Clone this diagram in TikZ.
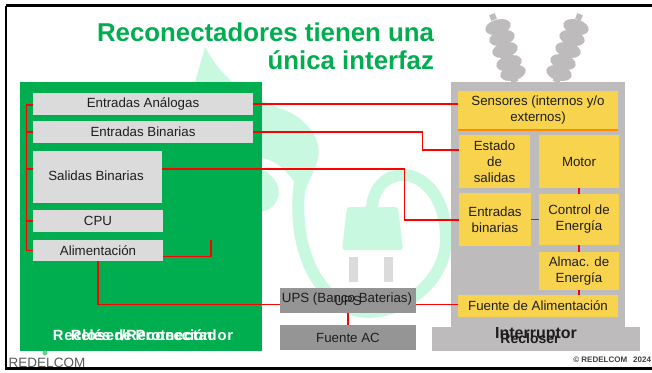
\documentclass[tikz,border=0pt]{standalone}
\usepackage{fontspec}
\setmainfont{Liberation Sans}
\definecolor{verde}{HTML}{00AE50}
\definecolor{menta}{HTML}{C8F9E0}
\definecolor{claro}{HTML}{DBDBDB}
\definecolor{medio}{HTML}{959595}
\definecolor{cuerpo}{HTML}{BDBBBC}
\definecolor{amarillo}{HTML}{F8D34E}
\definecolor{texto}{HTML}{1E1E1E}

\begin{document}
\begin{tikzpicture}[x=1pt,y=-1pt,
    every node/.style={inner sep=0pt,outer sep=0pt,text=texto,font=\fontsize{13.3}{16}\selectfont,align=center},
    relbox/.style={fill=claro,minimum width=#1},
    upsbox/.style={fill=medio,minimum width=136,minimum height=25},
    yelbox/.style={fill=amarillo,minimum width=#1},
    wire/.style={draw=red,line width=1.6pt},
    bigtxt/.style={font=\fontsize{14.8}{16}\selectfont\bfseries},
    capa/.style={fill=cuerpo}]

    \useasboundingbox (0,0) rectangle (652,372);
    \fill[white] (0,0) rectangle (652,372);

    % hoja y enchufe de fondo
    \fill[menta] (205,47) .. controls (225,85) and (255,100) .. (285,110)
        .. controls (308,120) and (322,140) .. (318,158)
        .. controls (315,172) and (309,178) .. (306,190)
        -- (297,186) .. controls (287,170) and (275,160) .. (262,158)
        -- (190,158) -- (190,100) -- cycle;
    \fill[menta] (255,168) -- (263,170) .. controls (275,176) and (281,188) .. (278,197)
        .. controls (275,207) and (268,212) .. (255,212) -- cycle;
    \draw[menta,line width=12pt] (300,182) .. controls (294,225) and (302,280) .. (345,307)
        .. controls (385,325) and (445,290) .. (446,240)
        .. controls (447,200) and (425,175) .. (403,175)
        .. controls (385,175) and (372,190) .. (372,210);
    \fill[menta,rounded corners=3pt] (347,207) -- (398,207) -- (403,250) -- (342,250) -- cycle;
    \fill[claro] (349,257) rectangle (358,282);
    \fill[claro] (384,257) rectangle (393,282);

    % aisladores
    \draw[cuerpo,line width=7pt] (495,22) -- (515,82);
    \draw[cuerpo,line width=7pt] (577,22) -- (556,82);
    \fill[cuerpo,rotate around={20:(493,17)}] (490,14) rectangle (496,20);
    \fill[cuerpo,rotate around={-20:(579,17)}] (576,14) rectangle (582,20);
    \foreach \xa/\ya/\ang in {498/27/15,502/38/15,505/50/15,509/63/15,513/73/15,
                              576/27/-15,572/38/-15,568/50/-15,563/62/-15,559/73/-15}
        \fill[cuerpo,rotate around={\ang:(\xa,\ya)}] (\xa,\ya) ellipse (13 and 7.5);

    % bloque izquierdo
    \node[fill=verde,minimum width=242,minimum height=269] (rele) at (141,216) {};
    \node[relbox=220,minimum height=22] (entana) at (143,104) {Entradas Análogas};
    \node[relbox=220,minimum height=22] (entbin) at (143,132) {Entradas Binarias};
    \node[relbox=129,minimum height=52] (salbin) at (97.5,177) {\hspace{-3pt}\raisebox{3pt}{Salidas Binarias}};
    \node[relbox=130,minimum height=22] (cpu)    at (98,221) {CPU};
    \node[relbox=130,minimum height=21] (alim)   at (98,250.5) {Alimentación};
    \node[bigtxt,text=white] (reclose) at (143,335) {\addfontfeature{LetterSpace=5}Recloser/Reconectador};
    \node[bigtxt,text=white] (proteccion) at (141.5,335) {Relés de Protección};

    % bloque derecho
    \node[capa,minimum width=174,minimum height=245] (cuba) at (538,204.5) {};
    \node[capa,minimum width=208,minimum height=24] (base) at (536,339) {};
    \node[yelbox=160,minimum height=38,fill=amarillo] (sens) at (538,110) {Sensores (internos y/o\\externos)};
    \node[yelbox=71,minimum height=53]  (estado)  at (494.5,161.5) {Estado\\de\\salidas};
    \node[yelbox=80,minimum height=53]  (motor)   at (579,161.5) {Motor};
    \node[yelbox=72,minimum height=53]  (entrada) at (495,219.5) {Entradas\\binarias};
    \node[yelbox=80,minimum height=51]  (control) at (579,219.5) {Control de\\Energía};
    \node[yelbox=80,minimum height=38]  (almac)   at (579,271) {Almac. de\\Energía};
    \node[yelbox=160,minimum height=22] (fuente)  at (538,306) {Fuente de Alimentación};
    \fill[orange!90!yellow] (sens.south west) rectangle ([yshift=-1.5pt]sens.south east);
    \node[font=\fontsize{16}{16}\selectfont\bfseries] (interr) at (536,335) {Interruptor};
    \node[font=\fontsize{14}{16}\selectfont\bfseries] (recl) at (530,338) {Recloser};

    % UPS y fuente
    \node[upsbox] (ups) at (348,300.5) {};
    \node[upsbox] (ac)  at (348,337.5) {Fuente AC};
    \node (upsa) at (347,299) {UPS (Banco Baterias)};
    \node (upsb) at (348,301) {UPS};

    % titulo
    \node[font=\fontsize{25.8}{28}\selectfont\bfseries,text=verde,align=right,anchor=east] (titulo) at (434,46)
        {Reconectadores tienen una\\única interfaz};

    % conexiones
    \coordinate (bus) at (26.5,105);
    \coordinate (alimfin) at (211,240);
    \coordinate (codobin) at (422.5,132);
    \coordinate (codosal) at (404.5,169.2);
    \draw[wire] (alim.west) -| (bus) -- (entana.west |- bus);
    \draw[wire] (entbin.west) -- (entbin.west -| bus);
    \draw[wire] ([yshift=7.8pt]salbin.west) -- ([yshift=7.8pt]salbin.west -| bus);
    \draw[wire] (cpu.west) -- (cpu.west -| bus);

    \draw[wire] (entana.east) -- (entana.east -| sens.west);
    \draw[wire] (entbin.east) -- (codobin) |- ([yshift=11.5pt]estado.west);
    \draw[wire] ([yshift=7.8pt]salbin.east) -- (codosal) |- ([yshift=-0.7pt]entrada.west);
    \draw[wire] ([yshift=-6pt]alim.east) -| (alimfin);
    \draw[wire] (alim.south) |- ([yshift=-4pt]ups.west);
    \draw[wire] ([yshift=-4pt]ups.east) -- ([yshift=-4pt]ups.east -| fuente.west);
    \draw (ups) edge[wire] (ac);

    \draw (entrada) edge[wire] (control);
    \draw (motor) edge[wire] (control);
    \draw (control) edge[wire] (almac);
    \draw[wire] (almac.south) -- (almac.south |- fuente.north);

    % logo y pie
    \node[font=\fontsize{13.5}{14}\selectfont,text=black!65] (logo) at (47,362.5) {REDELCOM};
    \fill[verde!60] (45,353) circle (2.5);
    \node[font=\fontsize{8}{9}\selectfont\bfseries,text=black!75,anchor=east] (copy) at (651,360) {© REDELCOM\hspace{6pt}2024};

    % marco
    \draw[black,line width=2.5pt] (6,5.5) -- (656,5.5);
    \draw[black,line width=2.5pt] (6,5.5) -- (6,368.5) -- (656,368.5);
\end{tikzpicture}
\end{document}
